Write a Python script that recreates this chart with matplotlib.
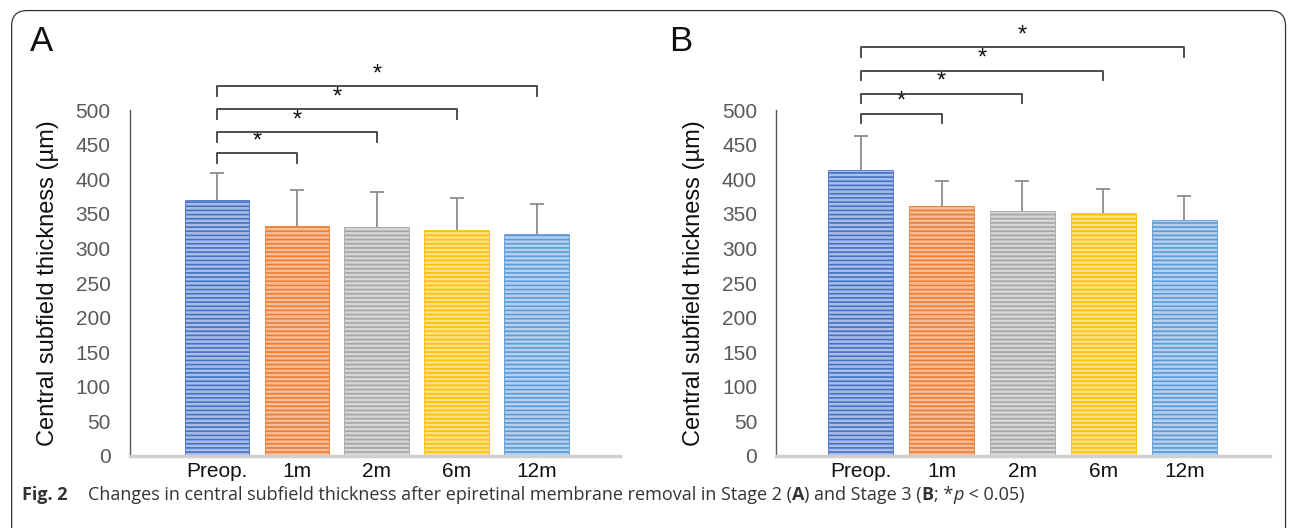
import matplotlib
matplotlib.use("Agg")
import matplotlib.pyplot as plt
from matplotlib.patches import FancyBboxPatch

plt.rcParams['font.family'] = ['Liberation Sans', 'DejaVu Sans']
plt.rcParams['hatch.linewidth'] = 1.2

groups = ['Preop.', '1m', '2m', '6m', '12m']
colors = ['#4472C4', '#ED7D31', '#A5A5A5', '#FFC000', '#5B9BD5']
tints = ['#A9BDE6', '#F7BC98', '#D6D6D6', '#FFE08A', '#B5D0EE']

mean_a = [370, 332, 331, 327, 321]
sd_a = [39, 52, 50, 46, 43]
mean_b = [413, 362, 354, 351, 341]
sd_b = [50, 36, 43, 35, 35]

# bracket heights (data units) for Preop vs each later visit
brackets_a = [438, 468, 501, 535]
brackets_b = [495, 524, 557, 591]

fig = plt.figure(figsize=(12.92, 5.28), dpi=100)

frame = FancyBboxPatch((0.009, -0.05), 0.986, 1.03, boxstyle="round,pad=0,rounding_size=0.012",
                       transform=fig.transFigure, facecolor='none', edgecolor='#333333', lw=0.9,
                       mutation_aspect=1292 / 528)
fig.add_artist(frame)


def panel(rect, means, sds, brackets, xlim, letter, letter_x):
    ax = fig.add_axes(rect)
    x = list(range(len(groups)))
    ax.bar(x, means, width=0.81, color=tints, edgecolor=colors, linewidth=0.6, hatch='----', zorder=2)
    eb = ax.errorbar(x, means, yerr=[[0] * len(sds), sds], fmt='none', ecolor='#8c8c8c',
                     elinewidth=1.3, capsize=5, capthick=1.3, zorder=3)
    eb[1][0].set_visible(False)  # no cap at the bar top
    ax.set_ylim(0, 500)
    ax.set_xlim(*xlim)
    ax.set_yticks(range(0, 501, 50))
    ax.set_xticks(x)
    ax.set_xticklabels(groups, fontsize=15, color='#111111')
    ax.tick_params(axis='y', length=0, labelsize=15, labelcolor='#595959', pad=14)
    ax.tick_params(axis='x', length=0, pad=4)
    for s in ['top', 'right']:
        ax.spines[s].set_visible(False)
    ax.spines['left'].set_color('#595959')
    ax.spines['left'].set_linewidth(1.0)
    ax.spines['bottom'].set_color('#d0d0d0')
    ax.spines['bottom'].set_linewidth(2.5)
    ax.set_ylabel('Central subfield thickness (µm)', fontsize=17, color='#111111', labelpad=12)
    drop = 14
    for i, h in enumerate(brackets):
        j = i + 1
        ax.plot([0, 0, j, j], [h - drop, h, h, h - drop], color='#404040', lw=1.3,
                clip_on=False, zorder=4)
        ax.text(j / 2, h + 1, '*', ha='center', va='bottom', fontsize=17,
                color='#111111', clip_on=False)
    fig.text(letter_x, 0.922, letter, fontsize=25, color='#111111', ha='left', va='center')
    return ax


panel([0.1006, 0.1364, 0.379, 0.655], mean_a, sd_a, brackets_a, (-1.09, 5.04), 'A', 0.023)
panel([0.601, 0.1364, 0.382, 0.655], mean_b, sd_b, brackets_b, (-1.04, 5.06), 'B', 0.518)

# caption built piece by piece so bold letters and italic p line up
cap_font = dict(fontsize=13, color='#333333', family=['Open Sans', 'DejaVu Sans'], va='center')
r = fig.canvas.get_renderer()
fig.text(0.017, 0.062, 'Fig. 2', fontweight='bold', **cap_font)
xpos = 0.068
for s, w, st in [('Changes in central subfield thickness after epiretinal membrane removal in Stage 2 (',
                  'normal', 'normal'),
                 ('A', 'bold', 'normal'), (') and Stage 3 (', 'normal', 'normal'),
                 ('B', 'bold', 'normal'), ('; *', 'normal', 'normal'), ('p', 'normal', 'italic'),
                 (' < 0.05)', 'normal', 'normal')]:
    t = fig.text(xpos, 0.062, s, fontweight=w, fontstyle=st, **cap_font)
    bb = t.get_window_extent(renderer=r)
    xpos = bb.x1 / fig.bbox.width

fig.savefig('out.png', dpi=100)
